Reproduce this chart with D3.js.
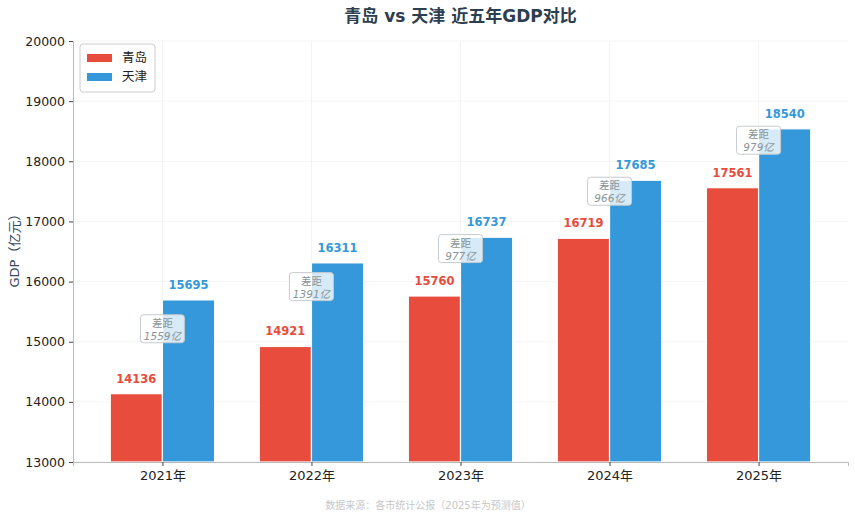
<!DOCTYPE html>
<html>
<head>
<meta charset="utf-8">
<script src="https://cdn.jsdelivr.net/npm/d3@7"></script>
<style>
  body { margin: 0; background: #fff; }
  text { font-family: "DejaVu Sans", "Noto Sans CJK SC", sans-serif; }
</style>
</head>
<body>
<div id="chart"></div>
<script>
// data
var years = ["2021年", "2022年", "2023年", "2024年", "2025年"];
var qingdao = [14136, 14921, 15760, 16719, 17561];
var tianjin = [15695, 16311, 16737, 17685, 18540];
var gaps = [1559, 1391, 977, 966, 979];
var yTicks = [13000, 14000, 15000, 16000, 17000, 18000, 19000, 20000];
var seriesNames = ["青岛", "天津"];
var colors = ["#e74c3c", "#3498db"];

var svgWidth = 855;
var svgHeight = 520;

var margin = { top: 41, right: 7, bottom: 58, left: 73 };
var width = svgWidth - margin.left - margin.right;
var height = svgHeight - margin.top - margin.bottom;

var svg = d3.select("#chart")
  .append("svg")
  .attr("width", svgWidth)
  .attr("height", svgHeight);

var chartGroup = svg.append("g")
  .attr("transform", `translate(${margin.left}, ${margin.top})`);

// scales: category index on x, matplotlib-ish padding of 0.6 each side
var xScale = d3.scaleLinear()
  .domain([-0.6, years.length - 1 + 0.6])
  .range([0, width]);

var yScale = d3.scaleLinear()
  .domain([13000, 20000])
  .range([height, 0]);

var barW = xScale(0.35) - xScale(0);

// grid lines
chartGroup.append("g")
  .selectAll("line.hgrid")
  .data(yTicks)
  .enter()
  .append("line")
  .attr("x1", 0)
  .attr("x2", width)
  .attr("y1", d => yScale(d))
  .attr("y2", d => yScale(d))
  .attr("stroke", "#f2f2f2")
  .attr("stroke-width", 0.8);

chartGroup.append("g")
  .selectAll("line.vgrid")
  .data(years)
  .enter()
  .append("line")
  .attr("x1", (d, i) => xScale(i))
  .attr("x2", (d, i) => xScale(i))
  .attr("y1", 0)
  .attr("y2", height)
  .attr("stroke", "#f0f0f0")
  .attr("stroke-width", 0.8);

// bars
var series = [qingdao, tianjin];
series.forEach(function(vals, s) {
  var offset = s === 0 ? -barW / 2 : barW / 2;
  chartGroup.selectAll(null)
    .data(vals)
    .enter()
    .append("rect")
    .attr("x", (d, i) => xScale(i) + offset - barW / 2)
    .attr("y", d => yScale(d))
    .attr("width", barW)
    .attr("height", d => height - yScale(d))
    .attr("fill", colors[s])
    .attr("stroke", "white")
    .attr("stroke-width", 1.2);

  chartGroup.selectAll(null)
    .data(vals)
    .enter()
    .append("text")
    .attr("x", (d, i) => xScale(i) + offset)
    .attr("y", d => yScale(d) - 11)
    .attr("text-anchor", "middle")
    .attr("font-size", "11.5px")
    .attr("font-weight", "bold")
    .attr("fill", colors[s])
    .text(d => d);
});

// gap annotations
var gapGroup = chartGroup.selectAll("g.gap")
  .data(gaps)
  .enter()
  .append("g")
  .attr("transform", (d, i) =>
    `translate(${xScale(i)}, ${yScale((qingdao[i] + tianjin[i]) / 2 + 300)})`);

gapGroup.append("rect")
  .attr("x", -22)
  .attr("y", -14)
  .attr("width", 44)
  .attr("height", 28)
  .attr("rx", 3)
  .attr("fill", "white")
  .attr("fill-opacity", 0.8)
  .attr("stroke", "#c5cbcf")
  .attr("stroke-width", 1);

gapGroup.append("text")
  .attr("y", -2)
  .attr("text-anchor", "middle")
  .attr("font-size", "10.5px")
  .attr("fill", "#8a9597")
  .text("差距");

gapGroup.append("text")
  .attr("y", 11)
  .attr("text-anchor", "middle")
  .attr("font-size", "10.5px")
  .attr("font-style", "italic")
  .attr("fill", "#8a9597")
  .text(d => d + "亿");

// axes
var leftAxis = d3.axisLeft(yScale)
  .tickValues(yTicks)
  .tickSize(4)
  .tickPadding(4)
  .tickFormat(d3.format("d"));

var bottomAxis = d3.axisBottom(xScale)
  .tickValues(d3.range(years.length))
  .tickSize(4)
  .tickPadding(5)
  .tickFormat(i => years[i]);

var yAxis = chartGroup.append("g").call(leftAxis);
var xAxis = chartGroup.append("g")
  .attr("transform", `translate(0, ${height})`)
  .call(bottomAxis);

[yAxis, xAxis].forEach(function(ax) {
  ax.select(".domain").attr("stroke", "#bbbbbb").attr("stroke-width", 1);
  ax.selectAll(".tick line").attr("stroke", "#444");
  ax.selectAll(".tick text")
    .attr("fill", "#222")
    .attr("font-size", "12.5px")
    .style("font-family", "'DejaVu Sans', 'Noto Sans CJK SC', sans-serif");
});
xAxis.selectAll(".tick text").attr("font-size", "13px");

// y label
chartGroup.append("text")
  .attr("transform", "rotate(-90)")
  .attr("x", -height / 2 + 4)
  .attr("y", -54)
  .attr("text-anchor", "middle")
  .attr("font-size", "13px")
  .attr("fill", "#34495e")
  .text("GDP（亿元）");

// title
svg.append("text")
  .attr("x", margin.left + width / 2)
  .attr("y", 22)
  .attr("text-anchor", "middle")
  .attr("font-size", "17px")
  .attr("font-weight", "bold")
  .attr("fill", "#2c3e50")
  .text("青岛 vs 天津 近五年GDP对比");

// legend
var legend = chartGroup.append("g")
  .attr("transform", "translate(7, 3)");

legend.append("rect")
  .attr("width", 75)
  .attr("height", 48)
  .attr("rx", 3)
  .attr("fill", "white")
  .attr("fill-opacity", 0.9)
  .attr("stroke", "#cccccc");

seriesNames.forEach(function(name, i) {
  legend.append("rect")
    .attr("x", 7)
    .attr("y", 10 + i * 19)
    .attr("width", 25)
    .attr("height", 8)
    .attr("fill", colors[i]);
  legend.append("text")
    .attr("x", 42)
    .attr("y", 18 + i * 19)
    .attr("font-size", "12.5px")
    .attr("fill", "#222")
    .text(name);
});

// source note
svg.append("text")
  .attr("x", 428)
  .attr("y", 509)
  .attr("text-anchor", "middle")
  .attr("font-size", "10px")
  .attr("fill", "#c8c8c8")
  .text("数据来源：各市统计公报（2025年为预测值）");
</script>
</body>
</html>
